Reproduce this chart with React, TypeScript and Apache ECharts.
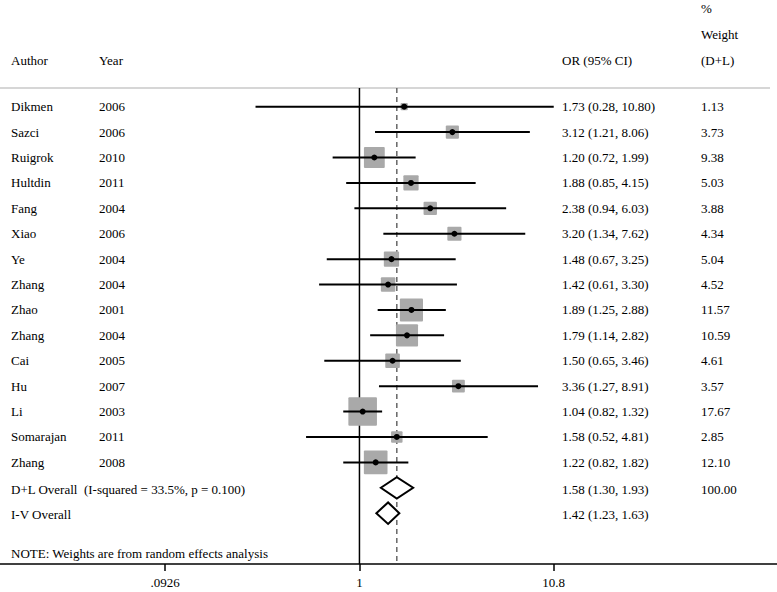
import React, { useEffect, useRef } from "react";
import * as echarts from "echarts";

const authors = ["Dikmen", "Sazci", "Ruigrok", "Hultdin", "Fang", "Xiao", "Ye", "Zhang", "Zhao", "Zhang", "Cai", "Hu", "Li", "Somarajan", "Zhang"];
const years = [2006, 2006, 2010, 2011, 2004, 2006, 2004, 2004, 2001, 2004, 2005, 2007, 2003, 2011, 2008];
const oddsRatios = [1.73, 3.12, 1.2, 1.88, 2.38, 3.2, 1.48, 1.42, 1.89, 1.79, 1.5, 3.36, 1.04, 1.58, 1.22];
const ciLower = [0.28, 1.21, 0.72, 0.85, 0.94, 1.34, 0.67, 0.61, 1.25, 1.14, 0.65, 1.27, 0.82, 0.52, 0.82];
const ciUpper = [10.8, 8.06, 1.99, 4.15, 6.03, 7.62, 3.25, 3.3, 2.88, 2.82, 3.46, 8.91, 1.32, 4.81, 1.82];
const weights = [1.13, 3.73, 9.38, 5.03, 3.88, 4.34, 5.04, 4.52, 11.57, 10.59, 4.61, 3.57, 17.67, 2.85, 12.1];

const overallLabels = ["D+L Overall  (I-squared = 33.5%, p = 0.100)", "I-V Overall"];
const overallOR = [1.58, 1.42];
const overallLower = [1.3, 1.23];
const overallUpper = [1.93, 1.63];
const overallWeight = ["100.00", ""];

const tickValues = [0.0926, 1, 10.8];
const tickLabels = [".0926", "1", "10.8"];

const noteText = "NOTE: Weights are from random effects analysis";

// layout constants
const FONT = '13px "Liberation Serif", "Times New Roman", serif';
const X_MIN = -1.912;
const X_MAX = 2.221;
const Y_MIN = -4.2;
const Y_MAX = 18.0;
const COL_AUTHOR = 11;
const COL_YEAR = 99;
const COL_CI = 562;
const COL_W = 701;
const HEADER_LINE_ROW = -0.74;
const BOX_K = 6.8;

const lg = (v: number) => Math.log10(v);
const f2 = (v: number) => v.toFixed(2);

export default function App() {
  const ref = useRef<HTMLDivElement>(null);
  useEffect(() => {
    if (!ref.current) return;
    const chart = echarts.init(ref.current, null, { renderer: "svg" });

    const studyData = oddsRatios.map((o, i) => [lg(o), i, lg(ciLower[i]), lg(ciUpper[i]), weights[i]]);
    const overallData = overallOR.map((o, i) => [lg(o), authors.length + i, lg(overallLower[i]), lg(overallUpper[i])]);

    type Row = { row: number; cells: { x: number; text: string }[] };
    const textRows: Row[] = [];
    textRows.push({ row: -3.85, cells: [{ x: COL_W, text: "%" }] });
    textRows.push({ row: -2.83, cells: [{ x: COL_W, text: "Weight" }] });
    textRows.push({
      row: -1.8,
      cells: [
        { x: COL_AUTHOR, text: "Author" },
        { x: COL_YEAR, text: "Year" },
        { x: COL_CI, text: "OR (95% CI)" },
        { x: COL_W, text: "(D+L)" },
      ],
    });
    authors.forEach((a, i) => {
      textRows.push({
        row: i,
        cells: [
          { x: COL_AUTHOR, text: a },
          { x: COL_YEAR, text: String(years[i]) },
          { x: COL_CI, text: `${f2(oddsRatios[i])} (${f2(ciLower[i])}, ${f2(ciUpper[i])})` },
          { x: COL_W, text: f2(weights[i]) },
        ],
      });
    });
    overallLabels.forEach((l, i) => {
      textRows.push({
        row: authors.length + i + 0.05,
        cells: [
          { x: COL_AUTHOR, text: l },
          { x: COL_CI, text: `${f2(overallOR[i])} (${f2(overallLower[i])}, ${f2(overallUpper[i])})` },
          { x: COL_W, text: overallWeight[i] },
        ],
      });
    });
    textRows.push({ row: 17.6, cells: [{ x: COL_AUTHOR, text: noteText }] });

    chart.setOption({
      animation: false,
      backgroundColor: "#ffffff",
      grid: { left: 0, right: 0, top: 0, bottom: 28, containLabel: false },
      xAxis: {
        type: "value",
        min: X_MIN,
        max: X_MAX,
        splitLine: { show: false },
        axisLine: { onZero: false, lineStyle: { color: "#000", width: 1.5 } },
        axisTick: {
          show: true,
          length: 7,
          customValues: tickValues.map(lg),
          lineStyle: { color: "#000", width: 1.5 },
        },
        axisLabel: {
          customValues: tickValues.map(lg),
          margin: 12,
          color: "#000",
          fontFamily: '"Liberation Serif", "Times New Roman", serif',
          fontSize: 13,
          formatter: (v: number) => {
            let best = 0;
            tickValues.forEach((t, i) => {
              if (Math.abs(lg(t) - v) < Math.abs(lg(tickValues[best]) - v)) best = i;
            });
            return tickLabels[best];
          },
        },
      },
      yAxis: { type: "value", inverse: true, min: Y_MIN, max: Y_MAX, show: false },
      series: [
        {
          type: "line",
          silent: true,
          symbol: "none",
          data: [[X_MIN, HEADER_LINE_ROW], [X_MIN + (770 / 777) * (X_MAX - X_MIN), HEADER_LINE_ROW]],
          lineStyle: { color: "#c8c8c8", width: 1.5 },
        },
        {
          type: "line",
          silent: true,
          symbol: "none",
          data: [[0, HEADER_LINE_ROW], [0, Y_MAX]],
          lineStyle: { color: "#000", width: 1.5 },
          z: 3,
        },
        {
          type: "line",
          silent: true,
          symbol: "none",
          data: [[lg(overallOR[0]), HEADER_LINE_ROW], [lg(overallOR[0]), Y_MAX - 0.08]],
          lineStyle: { color: "#666", width: 1.5, type: [5, 4] },
          z: 3,
        },
        {
          type: "custom",
          silent: true,
          clip: false,
          z: 4,
          data: studyData,
          encode: { x: [0, 2, 3], y: 1 },
          renderItem: (params: any, api: any) => {
            const p = api.coord([api.value(0), api.value(1)]);
            const l = api.coord([api.value(2), api.value(1)]);
            const r = api.coord([api.value(3), api.value(1)]);
            const s = BOX_K * Math.sqrt(api.value(4));
            return {
              type: "group",
              children: [
                { type: "rect", shape: { x: p[0] - s / 2, y: p[1] - s / 2, width: s, height: s, r: 1 }, style: { fill: "#a9a9a9" } },
                { type: "line", shape: { x1: l[0], y1: l[1], x2: r[0], y2: r[1] }, style: { stroke: "#000", lineWidth: 2 } },
                { type: "circle", shape: { cx: p[0], cy: p[1], r: 3 }, style: { fill: "#000" } },
              ],
            };
          },
        },
        {
          type: "custom",
          silent: true,
          clip: false,
          z: 4,
          data: overallData,
          encode: { x: [0, 2, 3], y: 1 },
          renderItem: (params: any, api: any) => {
            const p = api.coord([api.value(0), api.value(1)]);
            const l = api.coord([api.value(2), api.value(1)]);
            const r = api.coord([api.value(3), api.value(1)]);
            const h = 10.7;
            return {
              type: "polygon",
              shape: { points: [[l[0], l[1]], [p[0], p[1] - h], [r[0], r[1]], [p[0], p[1] + h]] },
              style: { fill: "#fff", stroke: "#000", lineWidth: 2 },
            };
          },
        },
        {
          type: "custom",
          silent: true,
          clip: false,
          z: 5,
          data: textRows.map((t) => [0, t.row]),
          renderItem: (params: any, api: any) => {
            const row = textRows[params.dataIndex];
            const y = api.coord([0, row.row])[1];
            return {
              type: "group",
              children: row.cells.map((c) => ({
                type: "text",
                style: { text: c.text, x: c.x, y, fill: "#000", font: FONT, align: "left", verticalAlign: "middle" },
              })),
            };
          },
        },
      ],
    });
    return () => chart.dispose();
  }, []);
  return <div ref={ref} style={{ position: "fixed", left: 0, top: 0, width: 777, height: 592 }} />;
}
